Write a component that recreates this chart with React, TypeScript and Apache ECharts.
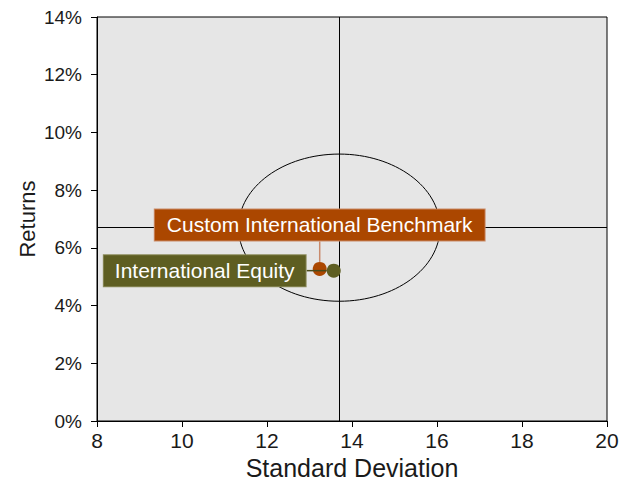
import React, { useEffect, useRef } from "react";
import * as echarts from "echarts";

const xTicks = [8, 20, 2]; // min, max, interval
const yTicks = [0, 14, 2];
const crossX = 13.7;
const crossY = 6.7;
const ellipseData = [[13.7, 6.7, 2.37, 2.55]]; // cx, cy, rx, ry
const seriesNames = ["Custom International Benchmark", "International Equity"];
const seriesPoints = [
  [13.24, 5.27],
  [13.57, 5.21],
];
const seriesColors = ["#ab4700", "#5e5e22"];

const FONT = "'Liberation Sans', Arial, sans-serif";

export default function App() {
  const ref = useRef<HTMLDivElement>(null);
  useEffect(() => {
    if (!ref.current) return;
    const chart = echarts.init(ref.current, null, { renderer: "svg" });
    const option: any = {
      animation: false,
      textStyle: { fontFamily: FONT },
      grid: {
        left: 97,
        right: 23,
        top: 17,
        bottom: 60,
        outerBoundsMode: "none",
        containLabel: false,
        show: true,
        backgroundColor: "#e6e6e6",
        borderColor: "#000",
        borderWidth: 1,
      },
      xAxis: {
        type: "value",
        min: xTicks[0],
        max: xTicks[1],
        interval: xTicks[2],
        name: "Standard Deviation",
        nameLocation: "middle",
        nameGap: 34,
        nameTextStyle: { fontSize: 25, color: "#1a1a1a", fontFamily: FONT },
        axisLine: { lineStyle: { color: "#000", width: 1 } },
        axisTick: { show: true, length: 6, lineStyle: { color: "#000" } },
        axisLabel: { fontSize: 21, color: "#1a1a1a", margin: 9, fontFamily: FONT },
        splitLine: { show: false },
      },
      yAxis: {
        type: "value",
        min: yTicks[0],
        max: yTicks[1],
        interval: yTicks[2],
        name: "Returns",
        nameLocation: "middle",
        nameGap: 59,
        nameMoveOverlap: false,
        nameTextStyle: { fontSize: 22, color: "#1a1a1a", fontFamily: FONT },
        axisLine: { show: true, lineStyle: { color: "#000", width: 1 } },
        axisTick: { show: true, length: 6, lineStyle: { color: "#000" } },
        axisLabel: {
          fontSize: 19,
          color: "#1a1a1a",
          margin: 15,
          formatter: "{value}%",
          fontFamily: FONT,
        },
        splitLine: { show: false },
      },
      series: [
        {
          type: "custom",
          silent: true,
          z: 1,
          encode: { x: 0, y: 1 },
          data: ellipseData,
          renderItem: (params: any, api: any) => {
            const c = api.coord([api.value(0), api.value(1)]);
            const s = api.size([api.value(2), api.value(3)]);
            return {
              type: "ellipse",
              shape: { cx: c[0], cy: c[1], rx: s[0], ry: s[1] },
              style: { fill: "none", stroke: "#000", lineWidth: 1 },
            };
          },
          markLine: {
            silent: true,
            z: 1,
            symbol: ["none", "none"],
            label: { show: false },
            lineStyle: { color: "#000", type: "solid", width: 1 },
            data: [{ xAxis: crossX }, { yAxis: crossY }],
          },
        },
        {
          type: "scatter",
          name: seriesNames[0],
          data: [seriesPoints[0]],
          symbolSize: 14,
          itemStyle: { color: seriesColors[0], opacity: 1 },
          label: {
            show: true,
            position: "inside",
            formatter: seriesNames[0],
            color: "#fff",
            fontSize: 21,
            fontFamily: FONT,
            backgroundColor: seriesColors[0],
            borderColor: "#c98a66",
            borderWidth: 1,
            padding: [5, 12, 5, 12],
          },
          labelLayout: { dx: 0, dy: -44 },
          labelLine: { show: true, lineStyle: { color: "#c98a6c", width: 1.5 } },
          z: 5,
        },
        {
          type: "scatter",
          name: seriesNames[1],
          data: [seriesPoints[1]],
          symbolSize: 14,
          itemStyle: { color: seriesColors[1], opacity: 1 },
          label: {
            show: true,
            position: "inside",
            formatter: seriesNames[1],
            color: "#fff",
            fontSize: 21,
            fontFamily: FONT,
            backgroundColor: seriesColors[1],
            borderColor: "#8a8a5a",
            borderWidth: 1,
            padding: [5, 11, 5, 11],
          },
          labelLayout: { dx: -129, dy: 0 },
          labelLine: { show: true, lineStyle: { color: "#4a4a1a", width: 1.5 } },
          z: 6,
        },
      ],
    };
    chart.setOption(option);
    return () => chart.dispose();
  }, []);
  return (
    <div
      ref={ref}
      style={{ position: "absolute", left: 0, top: 0, width: 630, height: 481 }}
    />
  );
}
